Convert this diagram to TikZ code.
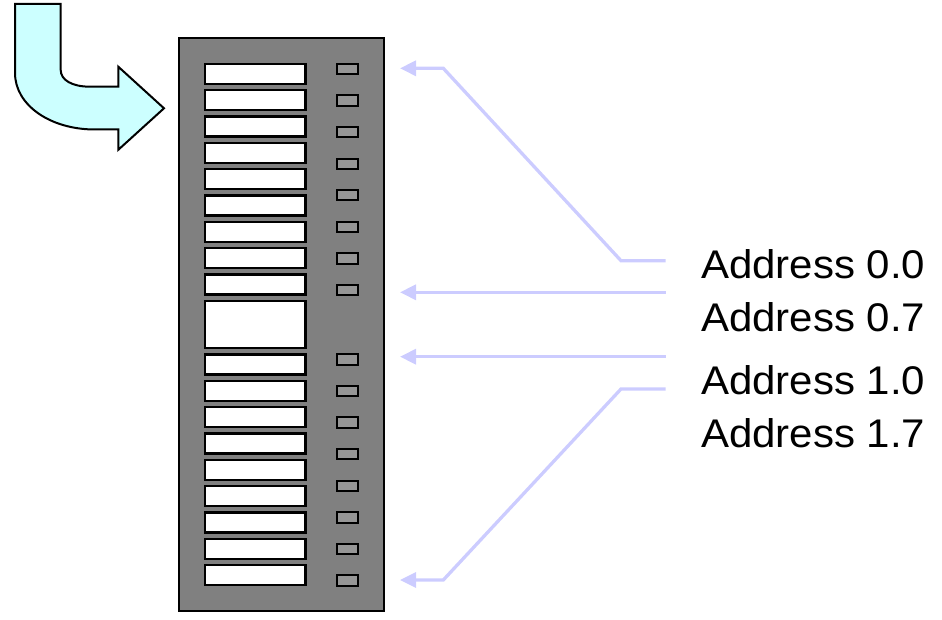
\documentclass[tikz,border=0pt]{standalone}
\usepackage{fontspec}
\setmainfont{Liberation Sans}
\usetikzlibrary{arrows.meta}
\definecolor{panelgray}{HTML}{808080}
\definecolor{ledgray}{HTML}{969696}
\definecolor{arrowblue}{HTML}{CCCCFF}
\definecolor{bentcyan}{HTML}{CCFFFF}
\newcommand{\addrtext}[1]{\scalebox{1.05}[1]{#1}}
\tikzset{
  panel/.style={draw=black, line width=2pt, fill=panelgray, inner sep=0pt, outer sep=0pt},
  slotbox/.style={draw=black, line width=2.4pt, fill=white, inner sep=0pt, outer sep=0pt, minimum width=100.3pt, minimum height=20pt},
  ledbox/.style={draw=black, line width=2pt, fill=ledgray, inner sep=0pt, outer sep=0pt, minimum width=21.3pt, minimum height=10.3pt},
  pointer/.style={draw=arrowblue, line width=3.3pt, -{Triangle[length=16pt,width=15pt]}},
  addr/.style={font=\fontsize{40pt}{48pt}\selectfont, anchor=base west, inner sep=0pt},
}
\begin{document}
\begin{tikzpicture}[x=1pt,y=-1pt]
\useasboundingbox (0,0) rectangle (942,620);
% bent arrow
\draw[line width=2pt, fill=bentcyan, line join=miter]
  (15,4) -- (60.7,4) -- (60.7,70)
  .. controls (60.7,80) and (72,86.7) .. (90,86.7)
  -- (118.3,86.7) -- (118.3,66.7) -- (164,108.3) -- (118.3,149.8) -- (118.3,129.5)
  -- (95,129.5)
  .. controls (50,129.5) and (15,105) .. (15,73) -- cycle;
% panel
\node[panel, minimum width=205.5pt, minimum height=573pt] (panel) at (281.25,324.2) {};
% top slots
\foreach \i in {0,...,8}{
  \node[slotbox] (ts\i) at (255.4, 73.9+26.33*\i) {};
}
\node[slotbox, minimum height=47pt] (big) at (255.4,324.7) {};
\foreach \i in {0,...,8}{
  \node[slotbox] (bs\i) at (255.4, 364.5+26.33*\i) {};
}
% leds
\foreach \i in {0,...,7}{
  \node[ledbox] (tl\i) at (347.7, 68.9+31.6*\i) {};
  \node[ledbox] (bl\i) at (347.7, 359.5+31.57*\i) {};
}
% labels
\node[addr] (a00) at (701,278.3) {\addrtext{Address 0.0}};
\node[addr] (a07) at (701,331.6) {\addrtext{Address 0.7}};
\node[addr] (a10) at (701,394.6) {\addrtext{Address 1.0}};
\node[addr] (a17) at (701,447.9) {\addrtext{Address 1.7}};
% pointer coordinates
\coordinate (s1) at (665.7,260.7);
\coordinate (s2) at (665.7,292.3);
\coordinate (s3) at (665.7,356.7);
\coordinate (s4) at (665.7,389);
\coordinate (e1) at (400,68.3);
\coordinate (e2) at (400,292.3);
\coordinate (e3) at (400,356.7);
\coordinate (e4) at (400,580);
\draw[pointer] (s1) -- (621,260.7) -- (443.3,68.3) -- (e1);
\draw[pointer] (s2) -- (e2);
\draw[pointer] (s3) -- (e3);
\draw[pointer] (s4) -- (621,389) -- (443.3,580) -- (e4);
\end{tikzpicture}
\end{document}
